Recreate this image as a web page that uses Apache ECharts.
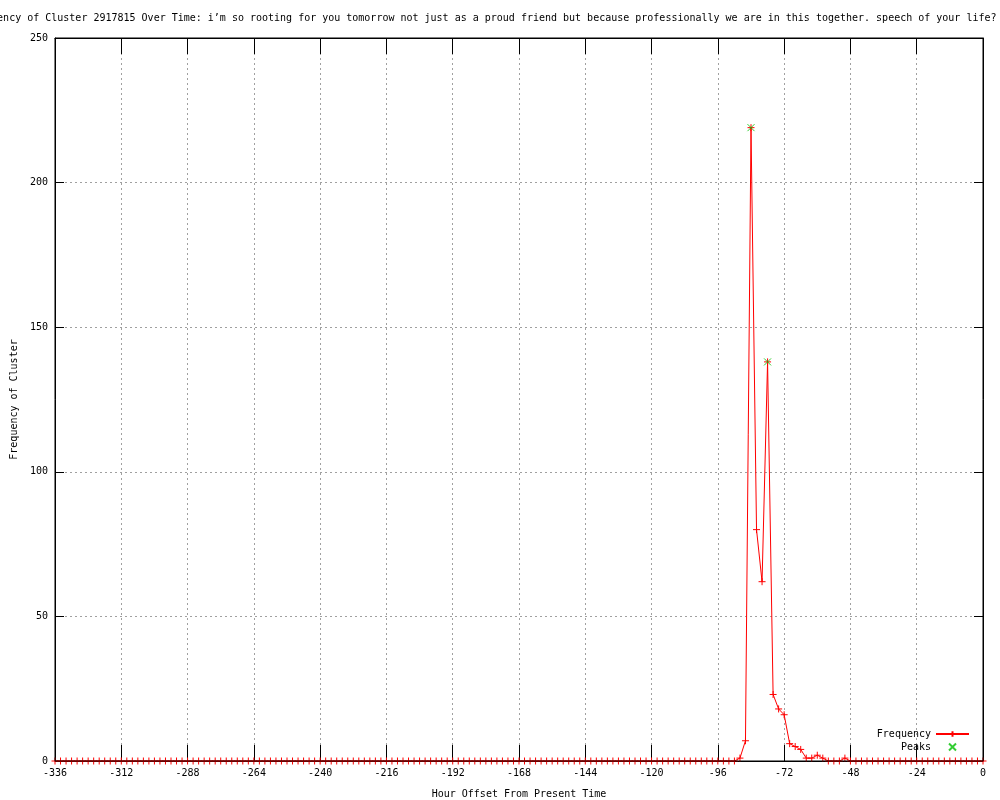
<!DOCTYPE html>
<html>
<head>
<meta charset="utf-8">
<script src="https://cdn.jsdelivr.net/npm/echarts@6/dist/echarts.min.js"></script>
<style>html,body{margin:0;padding:0;background:#fff}#c{width:1000px;height:800px}</style>
</head>
<body>
<div id="c"></div>
<script>
var titleText = 'Frequency of Cluster 2917815 Over Time: i\u2019m so rooting for you tomorrow not just as a proud friend but because professionally we are in this together. speech of your life?';
var xName = 'Hour Offset From Present Time';
var yName = 'Frequency of Cluster';

var hours = [
  -336,-334,-332,-330,-328,-326,-324,-322,-320,-318,-316,-314,
  -312,-310,-308,-306,-304,-302,-300,-298,-296,-294,-292,-290,
  -288,-286,-284,-282,-280,-278,-276,-274,-272,-270,-268,-266,
  -264,-262,-260,-258,-256,-254,-252,-250,-248,-246,-244,-242,
  -240,-238,-236,-234,-232,-230,-228,-226,-224,-222,-220,-218,
  -216,-214,-212,-210,-208,-206,-204,-202,-200,-198,-196,-194,
  -192,-190,-188,-186,-184,-182,-180,-178,-176,-174,-172,-170,
  -168,-166,-164,-162,-160,-158,-156,-154,-152,-150,-148,-146,
  -144,-142,-140,-138,-136,-134,-132,-130,-128,-126,-124,-122,
  -120,-118,-116,-114,-112,-110,-108,-106,-104,-102,-100,-98,
  -96,-94,-92,-90,-88,-86,-84,-82,-80,-78,-76,-74,
  -72,-70,-68,-66,-64,-62,-60,-58,-56,-54,-52,-50,
  -48,-46,-44,-42,-40,-38,-36,-34,-32,-30,-28,-26,
  -24,-22,-20,-18,-16,-14,-12,-10,-8,-6,-4,-2,
  0
];
var frequency = [
  0,0,0,0,0,0,0,0,0,0,0,0,
  0,0,0,0,0,0,0,0,0,0,0,0,
  0,0,0,0,0,0,0,0,0,0,0,0,
  0,0,0,0,0,0,0,0,0,0,0,0,
  0,0,0,0,0,0,0,0,0,0,0,0,
  0,0,0,0,0,0,0,0,0,0,0,0,
  0,0,0,0,0,0,0,0,0,0,0,0,
  0,0,0,0,0,0,0,0,0,0,0,0,
  0,0,0,0,0,0,0,0,0,0,0,0,
  0,0,0,0,0,0,0,0,0,0,0,0,
  0,0,0,0,1,7,219,80,62,138,23,18,
  16,6,5,4,1,1,2,1,0,0,0,1,
  0,0,0,0,0,0,0,0,0,0,0,0,
  0,0,0,0,0,0,0,0,0,0,0,0,
  0
];
var peakHours = [-84, -78];
var peakValues = [219, 138];

var FONT = 'DejaVu Sans Mono';
var PLUS = 'path://M0,5L10,5M5,0L5,10';
var CROSS = 'path://M0,0L10,10M10,0L0,10';

var freqData = hours.map(function (h, i) { return [h, frequency[i]]; });
var peakData = peakHours.map(function (h, i) { return [h, peakValues[i]]; });

var chart = echarts.init(document.getElementById('c'), null, {renderer: 'canvas'});
chart.setOption({
  animation: false,
  backgroundColor: '#fff',
  title: {
    text: titleText,
    left: -38,
    top: 8,
    textStyle: {fontFamily: FONT, fontSize: 10, fontWeight: 'normal', color: '#000'}
  },
  grid: {
    left: 55, right: 17, top: 38, bottom: 39,
    containLabel: false,
    outerBoundsMode: 'none',
    show: true, borderColor: '#000', borderWidth: 1, backgroundColor: 'rgba(0,0,0,0)', z: 5
  },
  legend: {
    data: ['Frequency', 'Peaks'],
    orient: 'vertical',
    right: 30,
    top: 729,
    align: 'right',
    itemWidth: 33,
    itemHeight: 7,
    itemGap: 3,
    padding: 0,
    textStyle: {fontFamily: FONT, fontSize: 10, color: '#000'}
  },
  xAxis: [{
    type: 'value', min: -336, max: 0, interval: 24,
    name: xName, nameLocation: 'middle', nameGap: 28,
    nameTextStyle: {fontFamily: FONT, fontSize: 10, color: '#000'},
    axisLine: {show: true, onZero: false, lineStyle: {color: '#000', width: 1}},
    axisTick: {show: true, inside: true, length: 16, lineStyle: {color: '#000'}},
    axisLabel: {fontFamily: FONT, fontSize: 10, color: '#000', margin: 7},
    splitLine: {show: true, lineStyle: {color: '#a0a0a0', type: [2, 3], width: 1}}
  }, {
    type: 'value', min: -336, max: 0, interval: 24, position: 'top',
    axisLine: {show: true, onZero: false, lineStyle: {color: '#000', width: 1}},
    axisTick: {show: true, inside: true, length: 16, lineStyle: {color: '#000'}},
    axisLabel: {show: false},
    splitLine: {show: false}
  }],
  yAxis: [{
    type: 'value', min: 0, max: 250, interval: 50,
    name: yName, nameLocation: 'middle', nameGap: 36,
    nameTextStyle: {fontFamily: FONT, fontSize: 10, color: '#000'},
    axisLine: {show: true, onZero: false, lineStyle: {color: '#000', width: 1}},
    axisTick: {show: true, inside: true, length: 9, lineStyle: {color: '#000'}},
    axisLabel: {fontFamily: FONT, fontSize: 10, color: '#000', margin: 7},
    splitLine: {show: true, lineStyle: {color: '#a0a0a0', type: [2, 3], width: 1}}
  }, {
    type: 'value', min: 0, max: 250, interval: 50, position: 'right',
    axisLine: {show: true, onZero: false, lineStyle: {color: '#000', width: 1}},
    axisTick: {show: true, inside: true, length: 9, lineStyle: {color: '#000'}},
    axisLabel: {show: false},
    splitLine: {show: false}
  }],
  series: [{
    name: 'Frequency',
    type: 'line',
    data: freqData,
    showSymbol: true,
    symbol: PLUS,
    symbolSize: 7,
    clip: false,
    lineStyle: {color: '#ff0000', width: 1},
    itemStyle: {color: '#ff0000', borderColor: '#ff0000', borderWidth: 1},
    emphasis: {disabled: true},
    z: 2
  }, {
    name: 'Peaks',
    type: 'scatter',
    data: peakData,
    symbol: CROSS,
    symbolSize: 7,
    itemStyle: {color: '#00c000', borderColor: '#00c000', borderWidth: 1},
    emphasis: {disabled: true},
    z: 3
  }]
});
</script>
</body>
</html>
